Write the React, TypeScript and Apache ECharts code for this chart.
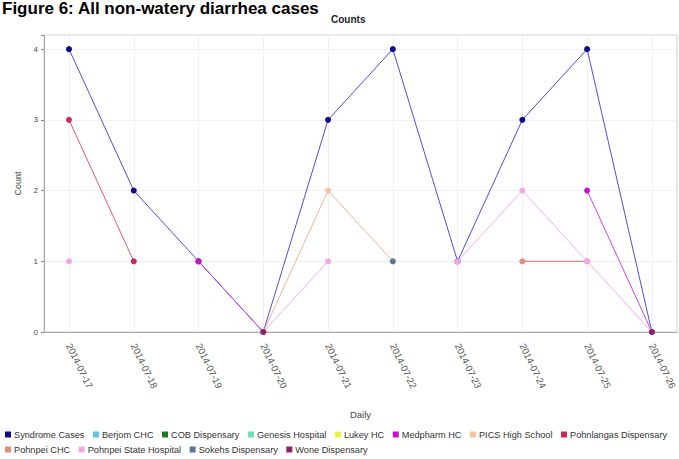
import React, { useEffect, useRef } from 'react';
import * as echarts from 'echarts';

const dates = ['2014-07-17', '2014-07-18', '2014-07-19', '2014-07-20', '2014-07-21', '2014-07-22', '2014-07-23', '2014-07-24', '2014-07-25', '2014-07-26'];
const yTicks = [0, 1, 2, 3, 4];

const seriesNames = [
  'Syndrome Cases', 'Berjom CHC', 'COB Dispensary', 'Genesis Hospital', 'Lukey HC', 'Medpharm HC',
  'PICS High School', 'Pohnlangas Dispensary', 'Pohnpei CHC', 'Pohnpei State Hospital', 'Sokehs Dispensary', 'Wone Dispensary',
];
const seriesColors = ['#0c0c8a', '#5cc4e6', '#1e7a2a', '#6ee0b4', '#eeee40', '#cc10cc', '#f5c49e', '#cc2a58', '#e2907e', '#f2a8e6', '#5a7896', '#8a2466'];
const lineColors = ['#5050cc', '#5cc4e6', '#1e7a2a', '#6ee0b4', '#eeee40', '#cc44dd', '#e6b89a', '#dd5a6a', '#e06a62', '#f2b0ea', '#5a7896', '#8a2466'];

const syndromeCases = [4, 2, 1, 0, 3, 4, 1, 3, 4, 0];
const berjomChc = [null, null, null, null, null, null, null, null, null, null];
const cobDispensary = [null, null, null, null, null, null, null, null, null, null];
const genesisHospital = [null, null, null, null, null, null, null, null, null, null];
const lukeyHc = [null, null, null, null, null, null, null, null, null, null];
const medpharmHc = [null, null, 1, 0, null, null, null, null, 2, 0];
const picsHighSchool = [null, null, null, 0, 2, 1, null, null, null, null];
const pohnlangasDispensary = [3, 1, null, null, null, null, null, null, null, null];
const pohnpeiChc = [null, null, null, null, null, null, null, 1, 1, null];
const pohnpeiStateHospital = [1, null, null, 0, 1, null, 1, 2, 1, 0];
const sokehsDispensary = [null, null, null, null, null, 1, null, null, null, null];
const woneDispensary = [null, null, null, 0, null, null, null, null, null, 0];

const seriesValues = [
  syndromeCases, berjomChc, cobDispensary, genesisHospital, lukeyHc, medpharmHc,
  picsHighSchool, pohnlangasDispensary, pohnpeiChc, pohnpeiStateHospital, sokehsDispensary, woneDispensary,
];

export default function App() {
  const ref = useRef<HTMLDivElement>(null);
  useEffect(() => {
    const chart = echarts.init(ref.current!, null, { renderer: 'svg' });
    const font = '"Liberation Sans", Arial, sans-serif';
    const legendCommon = {
      left: 5,
      itemWidth: 6,
      itemHeight: 6,
      itemGap: 8.5,
      padding: 0,
      icon: 'rect',
      textStyle: { fontSize: 9.2, color: '#333', fontFamily: font, padding: [0, 0, 0, -2] },
    };
    chart.setOption({
      animation: false,
      backgroundColor: '#ffffff',
      title: [
        {
          text: 'Figure 6: All non-watery diarrhea cases',
          left: 2,
          top: 0,
          padding: 0,
          textStyle: { fontSize: 17, fontWeight: 'bold', color: '#000', fontFamily: font },
        },
        {
          text: 'Counts',
          left: 331,
          top: 14,
          padding: 0,
          textStyle: { fontSize: 10, fontWeight: 'bold', color: '#222', fontFamily: font },
        },
      ],
      legend: [
        { ...legendCommon, top: 430, data: seriesNames.slice(0, 8) },
        { ...legendCommon, top: 445, data: seriesNames.slice(8) },
      ],
      grid: [
        { left: 69, right: 25, top: 35, bottom: 127, show: false },
        { left: 44, right: 2, top: 35, bottom: 127, show: true, borderColor: '#cccccc', borderWidth: 1, backgroundColor: 'transparent' },
      ],
      xAxis: [
        {
          type: 'category',
          gridIndex: 0,
          data: dates,
          boundaryGap: false,
          axisLine: { show: false },
          axisTick: { show: false },
          axisLabel: { rotate: -64, margin: 12, interval: 0, fontSize: 9.5, color: '#555', fontFamily: font },
          splitLine: { show: true, lineStyle: { color: '#f0f0f0', width: 1 } },
          name: 'Daily',
          nameLocation: 'middle',
          nameGap: 77,
          nameTextStyle: { fontSize: 9.5, color: '#444', fontFamily: font },
        },
        {
          type: 'value',
          gridIndex: 1,
          min: 0,
          max: 1,
          offset: 6,
          axisLine: { show: true, lineStyle: { color: '#aaaaaa' } },
          axisTick: { show: false },
          axisLabel: { show: false },
          splitLine: { show: false },
        },
      ],
      yAxis: [
        { type: 'value', gridIndex: 0, min: 0, max: 4.2, show: false, splitLine: { show: false } },
        {
          type: 'value',
          gridIndex: 1,
          min: 0,
          max: 4.2,
          interval: 1,
          offset: 3,
          axisLine: { show: true, lineStyle: { color: '#aaaaaa' } },
          axisTick: { show: true, length: 3, lineStyle: { color: '#888' } },
          axisLabel: {
            fontSize: 8,
            color: '#444',
            margin: 3,
            fontFamily: font,
            formatter: (v: number) => (yTicks.includes(v) ? String(v) : ''),
          },
          splitLine: { show: true, lineStyle: { color: '#f0f0f0' } },
          name: 'Count',
          nameLocation: 'middle',
          nameGap: 17,
          nameTextStyle: { fontSize: 9, color: '#444', fontFamily: font },
        },
      ],
      series: seriesNames.map((name, i) => ({
        name,
        type: 'line',
        xAxisIndex: 0,
        yAxisIndex: 0,
        data: seriesValues[i],
        symbol: 'circle',
        symbolSize: 6,
        showSymbol: true,
        showAllSymbol: true,
        connectNulls: false,
        clip: false,
        itemStyle: { color: seriesColors[i] },
        lineStyle: { color: lineColors[i], width: 1 },
        emphasis: { disabled: true },
      })),
    });
    return () => chart.dispose();
  }, []);
  return <div ref={ref} style={{ width: 679, height: 459, position: 'absolute', left: 0, top: 0 }} />;
}
